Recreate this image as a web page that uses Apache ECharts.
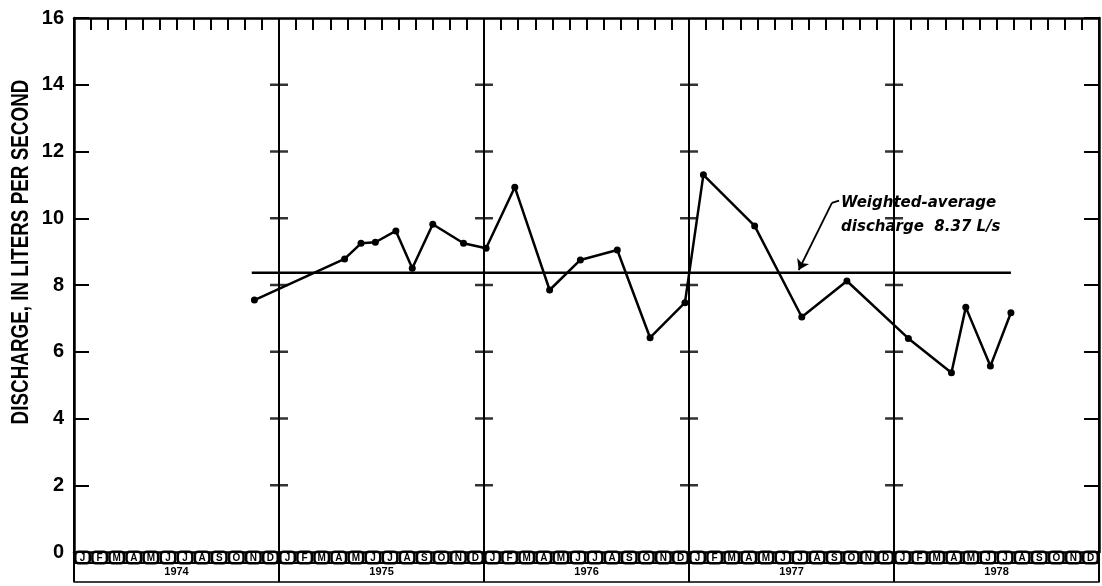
<!DOCTYPE html>
<html>
<head>
<meta charset="utf-8">
<script src="https://cdn.jsdelivr.net/npm/echarts@6/dist/echarts.min.js"></script>
<style>
html,body{margin:0;padding:0;background:#fff;}
#chart{width:1102px;height:586px;}
</style>
</head>
<body>
<div id="chart"></div>
<script>
// ---- data ----
const sampleDates = [1974.88, 1975.32, 1975.40, 1975.47, 1975.57, 1975.65, 1975.75, 1975.90,
  1976.01, 1976.15, 1976.32, 1976.47, 1976.65, 1976.81, 1976.98,
  1977.07, 1977.32, 1977.55, 1977.77,
  1978.07, 1978.28, 1978.35, 1978.47, 1978.57];
const dischargeLps = [7.55, 8.78, 9.25, 9.28, 9.62, 8.50, 9.82, 9.25,
  9.10, 10.93, 7.85, 8.75, 9.05, 6.42, 7.47,
  11.30, 9.77, 7.04, 8.12,
  6.40, 5.37, 7.33, 5.57, 7.17];
const weightedAverage = 8.37;
const averageSpan = [1974.867, 1978.57];
const yearLabels = ['1974', '1975', '1976', '1977', '1978'];
const monthLetters = ['J','F','M','A','M','J','J','A','S','O','N','D'];
const yTickValues = [2, 4, 6, 8, 10, 12, 14];
const dividerYears = [1975, 1976, 1977, 1978];
// annotation anchor (data coordinates)
const leaderHook = [[1977.732, 10.53], [1977.697, 10.46]];
const leaderArrow = [[1977.697, 10.46], [1977.535, 8.45]];
const noteAnchor = [1977.732, 10.52];
const noteLines = ['Weighted-average', 'discharge  8.37 L/s'];

const monthCats = [];
yearLabels.forEach(function (y) { monthLetters.forEach(function (m) { monthCats.push(m); }); });
const crossPts = [];
dividerYears.forEach(function (yr) { yTickValues.forEach(function (v) { crossPts.push([yr, v]); }); });

const BOLDFONT = '"Liberation Sans", Arial, sans-serif';
const chart = echarts.init(document.getElementById('chart'), null, {renderer: 'canvas'});

const option = {
  backgroundColor: '#fff',
  animation: false,
  grid: {left: 74, right: 1, top: 18, bottom: 34, containLabel: false},
  xAxis: [
    { // main value axis
      type: 'value', min: 1974, max: 1979, interval: 1, position: 'bottom',
      axisLine: {show: true, lineStyle: {color: '#000', width: 2.5}},
      axisTick: {show: true, length: 30, inside: false, lineStyle: {color: '#000', width: 2}},
      axisLabel: {show: false},
      splitLine: {show: true, lineStyle: {color: '#000', width: 2}}
    },
    { // month letters strip
      type: 'category', data: monthCats, position: 'bottom', offset: 0, boundaryGap: true,
      axisLine: {show: false}, axisTick: {show: false}, splitLine: {show: false},
      axisLabel: {
        show: true, interval: 0, margin: 1, color: '#000',
        fontFamily: BOLDFONT, fontWeight: 'bold', fontSize: 10,
        width: 12, height: 8, lineHeight: 9, align: 'center',
        backgroundColor: '#fff', borderColor: '#000', borderWidth: 2.5, borderRadius: 2, padding: [1, 0, 0, 0]
      }
    },
    { // year labels
      type: 'category', data: yearLabels, position: 'bottom', offset: 11, boundaryGap: true,
      axisLine: {show: true, lineStyle: {color: '#000', width: 2}},
      axisTick: {show: false}, splitLine: {show: false},
      axisLabel: {show: true, interval: 0, margin: 3, color: '#000', fontFamily: BOLDFONT, fontWeight: 'bold', fontSize: 11}
    },
    { // bottom frame line
      type: 'category', data: yearLabels, position: 'bottom', offset: 30, boundaryGap: true,
      axisLine: {show: true, lineStyle: {color: '#000', width: 1.5}},
      axisTick: {show: false}, axisLabel: {show: false}, splitLine: {show: false}
    },
    { // top month ticks
      type: 'category', data: monthCats, position: 'top', boundaryGap: true,
      axisLine: {show: true, lineStyle: {color: '#000', width: 2.5}},
      axisTick: {show: true, inside: true, length: 12, interval: 0, lineStyle: {color: '#000', width: 2}},
      axisLabel: {show: false}, splitLine: {show: false}
    }
  ],
  yAxis: [
    {
      type: 'value', min: 0, max: 16, interval: 2, position: 'left',
      axisLine: {show: true, lineStyle: {color: '#000', width: 2.5}},
      axisTick: {show: true, inside: true, length: 15, lineStyle: {color: '#000', width: 2}},
      axisLabel: {show: true, margin: 10, color: '#000', fontFamily: BOLDFONT, fontWeight: 'bold', fontSize: 20},
      splitLine: {show: false}
    },
    {
      type: 'value', min: 0, max: 16, interval: 2, position: 'right',
      axisLine: {show: true, lineStyle: {color: '#000', width: 2.5}},
      axisTick: {show: true, inside: true, length: 15, lineStyle: {color: '#000', width: 2}},
      axisLabel: {show: false}, splitLine: {show: false}
    }
  ],
  series: [
    {
      type: 'scatter', name: 'crosses', xAxisIndex: 0, yAxisIndex: 0, silent: true,
      symbol: 'rect', symbolSize: [18, 2.5], itemStyle: {color: '#000'},
      data: crossPts, z: 3
    },
    {
      type: 'line', name: 'leaderHook', xAxisIndex: 0, yAxisIndex: 0, silent: true,
      showSymbol: false, symbol: 'none',
      lineStyle: {color: '#000', width: 1.8},
      data: leaderHook, z: 4
    },
    {
      type: 'line', name: 'avg', xAxisIndex: 0, yAxisIndex: 0, silent: true,
      showSymbol: false, symbol: 'none',
      lineStyle: {color: '#000', width: 2.5},
      data: [[averageSpan[0], weightedAverage], [averageSpan[1], weightedAverage]],
      markLine: {
        silent: true, symbol: ['none', 'arrow'], symbolSize: 10,
        label: {show: false},
        lineStyle: {color: '#000', width: 1.8, type: 'solid'},
        data: [
          [{coord: leaderArrow[0]}, {coord: leaderArrow[1]}]
        ]
      },
      z: 4
    },
    {
      type: 'line', name: 'discharge', xAxisIndex: 0, yAxisIndex: 0,
      data: sampleDates.map(function (d, i) { return [d, dischargeLps[i]]; }),
      symbol: 'circle', symbolSize: 7, showSymbol: true,
      lineStyle: {color: '#000', width: 2.5},
      itemStyle: {color: '#000', borderWidth: 0},
      z: 5
    }
  ]
};
chart.setOption(option);

const anchorPx = chart.convertToPixel({xAxisIndex: 0, yAxisIndex: 0}, noteAnchor);
chart.setOption({
  graphic: [
    {
      type: 'text', x: 22, y: 252, rotation: Math.PI / 2, scaleX: 0.82,
      style: {
        text: 'DISCHARGE, IN LITERS PER SECOND', fill: '#000',
        font: 'bold 23px ' + BOLDFONT, textAlign: 'center', textVerticalAlign: 'middle'
      }
    },
    {
      type: 'text', x: anchorPx[0] + 2, y: anchorPx[1] + 2,
      style: {
        text: noteLines[0], fill: '#000',
        font: 'italic bold 15px "DejaVu Sans", sans-serif', textAlign: 'left', textVerticalAlign: 'middle'
      }
    },
    {
      type: 'text', x: anchorPx[0] + 2, y: anchorPx[1] + 26,
      style: {
        text: noteLines[1], fill: '#000',
        font: 'italic bold 15px "DejaVu Sans", sans-serif', textAlign: 'left', textVerticalAlign: 'middle'
      }
    }
  ]
});
</script>
</body>
</html>
